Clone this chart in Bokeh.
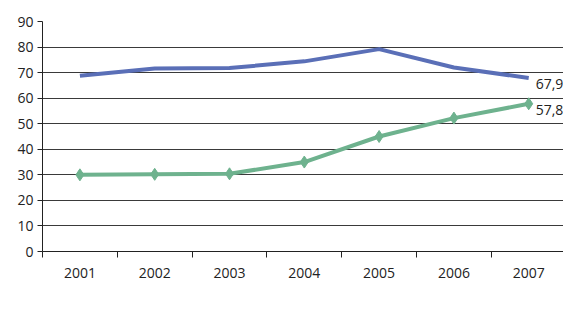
from bokeh.plotting import figure
from bokeh.models import ColumnDataSource, FixedTicker, Legend, LegendItem, LabelSet, Range1d
from bokeh.core.properties import value
from bokeh.embed import file_html
from bokeh.resources import INLINE

years = ["2001", "2002", "2003", "2004", "2005", "2006", "2007"]
andalucia = [30.0, 30.2, 30.4, 35.0, 45.0, 52.2, 57.8]
espana = [68.8, 71.6, 71.8, 74.4, 79.2, 72.0, 67.9]
end_labels = ["67,9", "57,8"]
y_ticks = [0, 10, 20, 30, 40, 50, 60, 70, 80, 90]

FONT = "Open Sans"
GREEN = "#6eb28e"
BLUE = "#5a6fb7"

xs = list(range(len(years)))
src_a = ColumnDataSource(dict(x=xs, y=andalucia))
src_e = ColumnDataSource(dict(x=xs, y=espana))

p = figure(width=563, height=322, frame_width=521, frame_height=230,
           output_backend="svg", toolbar_location=None,
           x_range=Range1d(-0.5, 6.465), y_range=Range1d(0, 90),
           min_border_left=42, min_border_right=0, min_border_top=21, min_border_bottom=0)
p.outline_line_color = None
p.background_fill_color = "white"
p.border_fill_color = "white"

# grid
p.xgrid.grid_line_color = None
p.ygrid.ticker = FixedTicker(ticks=y_ticks)
p.ygrid.grid_line_color = "#3a3a3a"
p.ygrid.grid_line_width = 1

# y axis
p.yaxis.ticker = FixedTicker(ticks=y_ticks)
p.yaxis.axis_line_color = "#222222"
p.yaxis.major_tick_line_color = "#222222"
p.yaxis.major_tick_out = 5
p.yaxis.major_tick_in = 0
p.yaxis.minor_tick_line_color = None
p.yaxis.major_label_standoff = 4
p.yaxis.major_label_text_font = FONT
p.yaxis.major_label_text_font_size = "14px"
p.yaxis.major_label_text_color = "#222222"

# x axis: labels at centres, ticks between categories
bounds = [i - 0.5 for i in range(len(years) + 1)]
p.xaxis.ticker = FixedTicker(ticks=xs, minor_ticks=bounds)
p.xaxis.major_label_overrides = {i: y for i, y in zip(xs, years)}
p.xaxis.major_tick_out = 0
p.xaxis.major_tick_in = 0
p.xaxis.minor_tick_out = 6
p.xaxis.minor_tick_in = 0
p.xaxis.minor_tick_line_color = "#222222"
p.xaxis.axis_line_color = "#222222"
p.xaxis.major_label_standoff = 10
p.xaxis.major_label_text_font = FONT
p.xaxis.major_label_text_font_size = "14px"
p.xaxis.major_label_text_color = "#222222"

# series
la = p.line("x", "y", source=src_a, color=GREEN, line_width=4, line_join="round")
sa = p.scatter("x", "y", source=src_a, marker="diamond", size=12, color=GREEN)
le = p.line("x", "y", source=src_e, color=BLUE, line_width=4, line_join="round")

# end labels
lab_src = ColumnDataSource(dict(x=[xs[-1], xs[-1]], y=[espana[-1], andalucia[-1]], t=end_labels))
labels = LabelSet(x="x", y="y", text="t", source=lab_src, x_offset=7, y_offset=-6,
                  text_font=value(FONT), text_font_size="14px", text_color="#222222",
                  text_baseline="middle")
p.add_layout(labels)

legend = Legend(items=[LegendItem(label="Andalucía", renderers=[la, sa]),
                       LegendItem(label="España", renderers=[le])],
                location="top_center", orientation="horizontal",
                title=" ", title_location="left", title_text_font_size="1px", title_standoff=22,
                glyph_width=45, glyph_height=12, label_height=12, label_standoff=3,
                spacing=20, padding=0, margin=22,
                border_line_color=None, background_fill_alpha=0,
                label_text_font=FONT, label_text_font_size="14px", label_text_color="#222222")
p.add_layout(legend, "below")

open("out.html", "w").write(file_html(p, INLINE))
